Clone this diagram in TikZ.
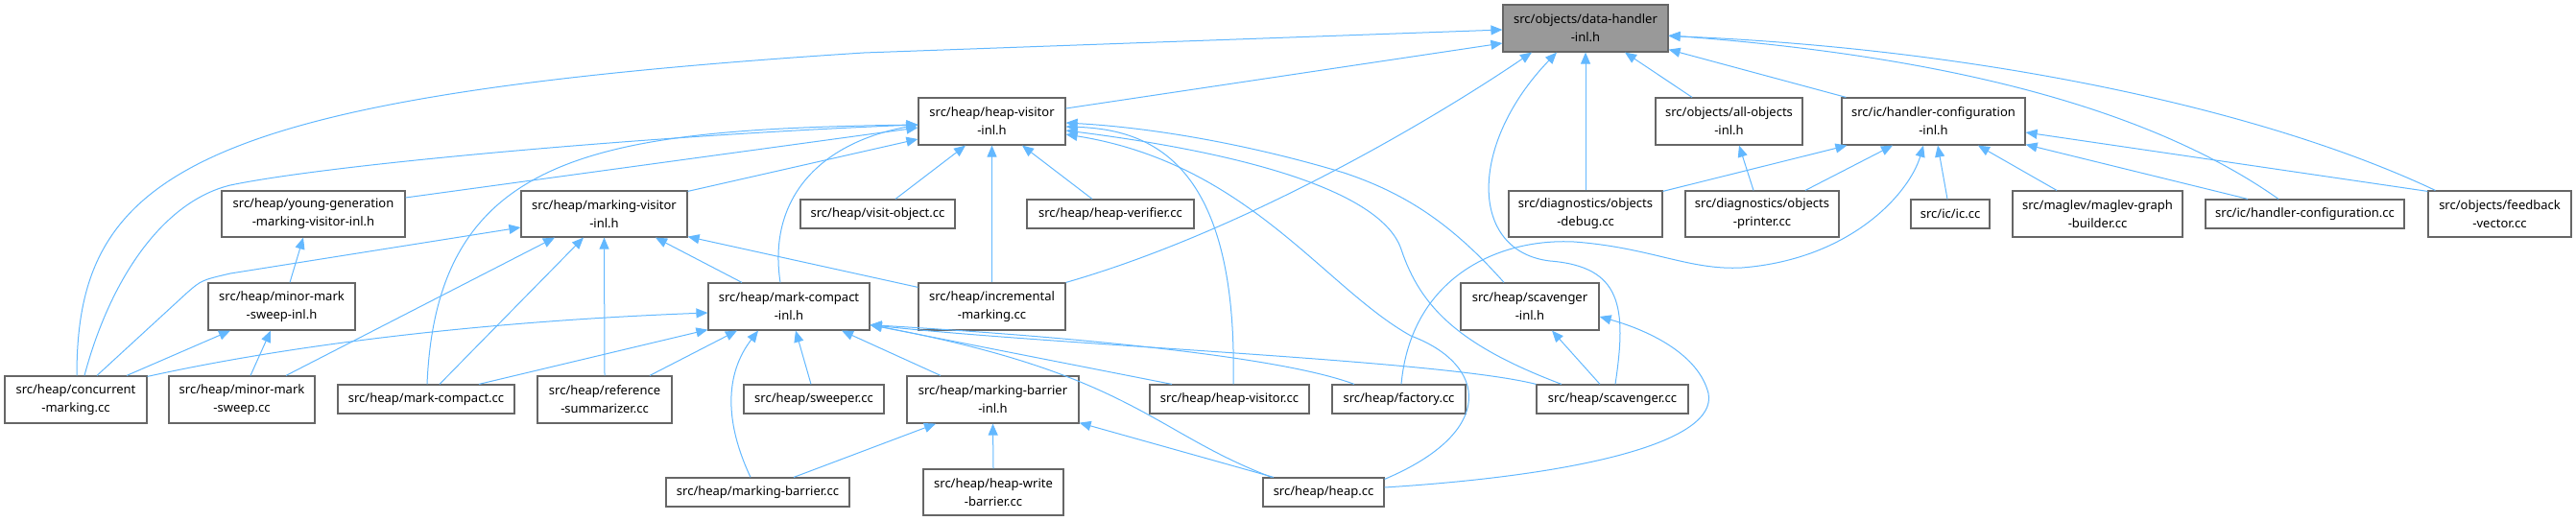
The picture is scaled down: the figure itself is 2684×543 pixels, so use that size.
\documentclass[tikz,border=0pt]{standalone}
\usepackage{fontspec}
\setmainfont{Noto Sans}
\usetikzlibrary{arrows.meta,calc}
\definecolor{edgeblue}{HTML}{63B8FF}
\definecolor{boxborder}{HTML}{666666}
\definecolor{mainfill}{HTML}{999999}
\begin{document}
\begin{tikzpicture}[x=1pt,y=-1pt,
  box/.style={draw=boxborder, line width=1.2pt, fill=white, align=center, inner sep=0pt,
    font=\fontsize{13}{19}\selectfont},
  two/.style={minimum height=49pt},
  twob/.style={minimum height=48pt},
  one/.style={minimum height=30pt},
  edge/.style={draw=edgeblue, line width=1pt, -{Triangle[length=12pt,width=10pt]}, fill=none}]
\useasboundingbox (0,0) rectangle (2684,543);
% row 1
\node[box,two,minimum width=172pt,fill=mainfill] (DH) at (1652,29.5) {src/objects/data-handler\\-inl.h};
% row 2
\node[box,two,minimum width=153pt] (HV) at (1033.5,126.5) {src/heap/heap-visitor\\-inl.h};
\node[box,two,minimum width=153pt] (AO) at (1801.5,126.5) {src/objects/all-objects\\-inl.h};
\node[box,two,minimum width=191pt] (HCI) at (2014.5,126.5) {src/ic/handler-configuration\\-inl.h};
% row 3
\node[box,twob,minimum width=191pt] (YG) at (326.5,223) {src/heap/young-generation\\-marking-visitor-inl.h};
\node[box,twob,minimum width=173pt] (MV) at (629.5,223) {src/heap/marking-visitor\\-inl.h};
\node[box,one,minimum width=161pt] (VO) at (914.5,223) {src/heap/visit-object.cc};
\node[box,one,minimum width=174pt] (HVer) at (1157,223) {src/heap/heap-verifier.cc};
\node[box,twob,minimum width=160pt] (OD) at (1652,223) {src/diagnostics/objects\\-debug.cc};
\node[box,twob,minimum width=160pt] (OP) at (1836,223) {src/diagnostics/objects\\-printer.cc};
\node[box,one,minimum width=82pt] (IC) at (2032,223) {src/ic/ic.cc};
\node[box,twob,minimum width=177pt] (MG) at (2185.5,223) {src/maglev/maglev-graph\\-builder.cc};
\node[box,one,minimum width=207pt] (HCC) at (2401.5,223) {src/ic/handler-configuration.cc};
\node[box,twob,minimum width=149pt] (FV) at (2604.5,223) {src/objects/feedback\\-vector.cc};
% row 4
\node[box,two,minimum width=153pt] (MMSI) at (293.5,319.5) {src/heap/minor-mark\\-sweep-inl.h};
\node[box,two,minimum width=168pt] (MCI) at (822,319.5) {src/heap/mark-compact\\-inl.h};
\node[box,two,minimum width=153pt] (IM) at (1033.5,319.5) {src/heap/incremental\\-marking.cc};
\node[box,two,minimum width=144pt] (SI) at (1594,319.5) {src/heap/scavenger\\-inl.h};
% row 5
\node[box,two,minimum width=148pt] (CM) at (79,416.5) {src/heap/concurrent\\-marking.cc};
\node[box,two,minimum width=152pt] (MMS) at (252,416.5) {src/heap/minor-mark\\-sweep.cc};
\node[box,one,minimum width=184pt] (MC) at (444,416) {src/heap/mark-compact.cc};
\node[box,two,minimum width=140pt] (RS) at (630,416.5) {src/heap/reference\\-summarizer.cc};
\node[box,one,minimum width=146pt] (SW) at (848,416) {src/heap/sweeper.cc};
\node[box,two,minimum width=179pt] (MBI) at (1034.5,416.5) {src/heap/marking-barrier\\-inl.h};
\node[box,one,minimum width=166pt] (HVcc) at (1281,416) {src/heap/heap-visitor.cc};
\node[box,one,minimum width=139pt] (FAC) at (1457.5,416) {src/heap/factory.cc};
\node[box,one,minimum width=158pt] (SC) at (1680,416) {src/heap/scavenger.cc};
% row 6
\node[box,one,minimum width=191pt] (MB) at (789.5,513) {src/heap/marking-barrier.cc};
\node[box,twob,minimum width=146pt] (HWB) at (1035,513) {src/heap/heap-write\\-barrier.cc};
\node[box,one,minimum width=126pt] (HEAP) at (1379,513) {src/heap/heap.cc};

% edges into data-handler-inl.h
\draw[edge] ($(CM.north)+(1,0)$) .. controls (80,180) and (200,100) .. (900,55) -- ($(DH.west)+(0,1.5)$);
\draw[edge] ($(HV.east)+(0,-13.5)$) -- ($(DH.west)+(0,15.5)$);
\draw[edge] (IM.north east) .. controls (1300,240) and (1500,120) .. ($(DH.south)+(-56,0)$);
\draw[edge] ($(SC.north)+(3,0)$) .. controls (1695,320) and (1690,278) .. (1615,272) .. controls (1530,262) and (1530,150) .. ($(DH.south)+(-30,0)$);
\draw[edge] (OD.north) -- (DH.south);
\draw[edge] ($(AO.north)+(-38.5,0)$) -- ($(DH.south)+(41,0)$);
\draw[edge] ($(HCI.north west)+(5,0)$) -- ($(DH.south east)+(0,-3)$);
\draw[edge] ($(HCC.north)+(-27.5,0)$) .. controls (2250,120) and (2050,60) .. ($(DH.east)+(0,7.5)$);
\draw[edge] ($(FV.north west)+(8,0)$) .. controls (2350,110) and (2050,50) .. ($(DH.east)+(0,8)$);

% edges into heap-visitor-inl.h
\draw[edge] ($(CM.north)+(9,0)$) .. controls (115,290) and (170,210) .. (240,193) .. controls (350,170) and (700,140) .. ($(HV.west)+(0,3.5)$);
\draw[edge] ($(YG.east)+(0,-17)$) -- ($(HV.west)+(0,6.5)$);
\draw[edge] ($(MV.north east)+(0,1)$) -- ($(HV.west)+(0,18.5)$);
\draw[edge] ($(MC.north)+(1,0)$) .. controls (455,160) and (620,135) .. ($(HV.west)+(0,3.5)$);
\draw[edge] ($(MCI.north)+(-9,0)$) .. controls (800,210) and (850,150) .. ($(HV.west)+(0,3.5)$);
\draw[edge] ($(VO.north)+(18.5,0)$) -- ($(HV.south)+(-27.5,0)$);
\draw[edge] ($(HVer.north)+(-19,0)$) -- ($(HV.south)+(31.5,0)$);
\draw[edge] (IM.north) -- (HV.south);
\draw[edge] ($(HVcc.north)+(4,0)$) .. controls (1290,170) and (1200,135) .. ($(HV.east)+(0,5.5)$);
\draw[edge] ($(HEAP.north east)+(0,2)$) .. controls (1560,450) and (1550,380) .. (1470,350) .. controls (1380,300) and (1300,170) .. ($(HV.east)+(0,13.5)$);
\draw[edge] ($(SC.north)+(-53,0)$) .. controls (1520,360) and (1480,320) .. (1460,260) .. controls (1440,200) and (1300,160) .. ($(HV.east)+(0,9.5)$);
\draw[edge] ($(SI.north)+(-27,0)$) .. controls (1510,230) and (1460,200) .. (1400,180) .. controls (1300,150) and (1200,133) .. ($(HV.east)+(0,1.5)$);

% edges into marking-visitor-inl.h
\draw[edge] ($(CM.north)+(22,0)$) -- (195,305) .. controls (210,292) .. (240,285) -- ($(MV.west)+(0,14)$);
\draw[edge] ($(MMS.north)+(46,0)$) -- ($(MV.south)+(-51.5,0)$);
\draw[edge] ($(MC.north)+(14,0)$) -- ($(MV.south)+(-21.5,0)$);
\draw[edge] (RS.north) -- (MV.south);
\draw[edge] ($(MCI.north)+(-49,0)$) -- ($(MV.south)+(53.5,0)$);
\draw[edge] ($(IM.north west)+(0,5)$) -- ($(MV.south east)+(0,-1)$);

% young generation / minor mark sweep
\draw[edge] ($(MMSI.north)+(8.5,0)$) -- ($(YG.south)+(-10.5,0)$);
\draw[edge] ($(CM.north)+(53,0)$) -- ($(MMSI.south)+(-53.5,0)$);
\draw[edge] ($(MMS.north)+(9,0)$) -- ($(MMSI.south)+(-11.5,0)$);

% edges into mark-compact-inl.h
\draw[edge] ($(CM.north east)+(0,1)$) .. controls (300,360) and (500,335) .. ($(MCI.west)+(0,6.5)$);
\draw[edge] ($(MC.north)+(55,0)$) -- ($(MCI.south west)+(0,-1)$);
\draw[edge] ($(RS.north)+(47,0)$) -- ($(MCI.south)+(-54,0)$);
\draw[edge] ($(MB.north)+(-7.5,0)$) .. controls (755,440) and (755,390) .. ($(MCI.south)+(-32,0)$);
\draw[edge] ($(SW.north)+(-3,0)$) -- ($(MCI.south)+(7,0)$);
\draw[edge] ($(MBI.north)+(-54.5,0)$) -- ($(MCI.south)+(55,0)$);
\draw[edge] ($(HVcc.north)+(-60,0)$) -- ($(MCI.south east)+(0,-6)$);
\draw[edge] ($(FAC.north)+(-46.5,0)$) .. controls (1330,370) and (1100,350) .. ($(MCI.south east)+(0,-6)$);
\draw[edge] (SC.north west) .. controls (1500,375) and (1100,360) .. ($(MCI.south east)+(0,-6)$);
\draw[edge] ($(HEAP.north)+(-54,0)$) .. controls (1200,450) and (1180,390) .. ($(MCI.south east)+(0,-6)$);

% edges into handler-configuration-inl.h
\draw[edge] ($(OD.north east)+(0,1)$) -- ($(HCI.south west)+(6,0)$);
\draw[edge] ($(OP.north)+(45,0)$) -- ($(HCI.south)+(-42.5,0)$);
\draw[edge] ($(FAC.north)+(2.5,0)$) .. controls (1470,290) and (1560,248) .. (1640,252) .. controls (1720,258) and (1760,282) .. (1815,279) .. controls (1930,270) and (1990,200) .. ($(HCI.south)+(-10.5,0)$);
\draw[edge] ($(IC.north)+(-3,0)$) -- ($(HCI.south)+(4.5,0)$);
\draw[edge] ($(MG.north)+(-42.5,0)$) -- ($(HCI.south)+(46.5,0)$);
\draw[edge] ($(HCC.north)+(-59.5,0)$) -- ($(HCI.south east)+(0,-1)$);
\draw[edge] ($(FV.north west)+(0,1)$) -- ($(HCI.east)+(0,11.5)$);

% all-objects
\draw[edge] ($(OP.north)+(-9,0)$) -- ($(AO.south)+(10.5,0)$);

% marking-barrier-inl.h
\draw[edge] ($(MB.north)+(37.5,0)$) -- ($(MBI.south)+(-59.5,0)$);
\draw[edge] (HWB.north) -- (MBI.south);
\draw[edge] ($(HEAP.north)+(-52,0)$) -- ($(MBI.south east)+(0,-1)$);

% scavenger-inl.h
\draw[edge] ($(SC.north)+(-13,0)$) -- ($(SI.south)+(23,0)$);
\draw[edge] ($(HEAP.east)+(0,-5)$) .. controls (1650,495) and (1790,460) .. (1780,410) .. controls (1770,370) and (1720,345) .. ($(SI.east)+(0,10.5)$);
\end{tikzpicture}
\end{document}
